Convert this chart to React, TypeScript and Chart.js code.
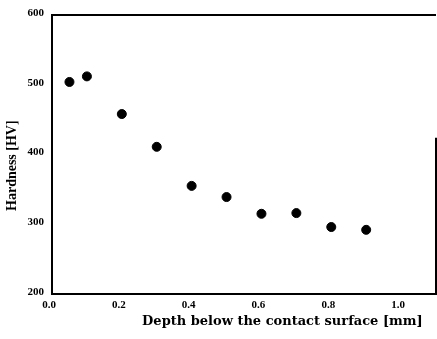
import React, { useEffect, useRef } from "react";
import { Chart, registerables } from "chart.js";

Chart.register(...registerables);

const depths = [0.05, 0.1, 0.2, 0.3, 0.4, 0.5, 0.6, 0.7, 0.8, 0.9];
const hardness = [504, 512, 458, 411, 355, 339, 315, 316, 296, 292];
const xTicks = [0.0, 0.2, 0.4, 0.6, 0.8, 1.0];
const yTicks = [200, 300, 400, 500, 600];
const xTitle = "Depth below the contact surface [mm]";
const yTitle = "Hardness [HV]";

const framePlugin = {
  id: "frame",
  afterDraw(chart: any) {
    const { ctx, chartArea } = chart;
    const { left, right, top, bottom } = chartArea;
    ctx.save();
    ctx.strokeStyle = "#000";
    ctx.lineWidth = 2;
    ctx.beginPath();
    ctx.moveTo(left, top);
    ctx.lineTo(right, top);
    ctx.stroke();
    ctx.beginPath();
    ctx.moveTo(right, top + (bottom - top) * 0.44);
    ctx.lineTo(right, bottom);
    ctx.stroke();
    // titles
    ctx.fillStyle = "#000";
    ctx.font = "bold 13px 'DejaVu Serif'";
    ctx.textAlign = "center";
    ctx.textBaseline = "middle";
    ctx.fillText(xTitle, left + (right - left) * 0.6, bottom + 28);
    ctx.translate(12, top + (bottom - top) * 0.54);
    ctx.rotate(-Math.PI / 2);
    ctx.font = "bold 14px 'Liberation Serif'";
    ctx.fillText(yTitle, 0, 0);
    ctx.restore();
  },
};

export default function App() {
  const ref = useRef<HTMLCanvasElement | null>(null);
  useEffect(() => {
    document.body.style.margin = "0";
    const canvas = ref.current!;
    const chart = new Chart(canvas, {
      type: "scatter",
      data: {
        datasets: [
          {
            data: depths.map((d, i) => ({ x: d, y: hardness[i] })),
            backgroundColor: "#000",
            borderColor: "#000",
            pointRadius: 4.5,
            pointHoverRadius: 4.5,
          },
        ],
      },
      options: {
        animation: false,
        responsive: false,
        maintainAspectRatio: false,
        layout: { autoPadding: false, padding: { top: 15, right: 1, left: 0, bottom: 0 } },
        plugins: { legend: { display: false }, tooltip: { enabled: false } },
        scales: {
          x: {
            type: "linear",
            min: 0,
            max: 1.1,
            afterFit: (s: any) => {
              s.height = 45;
              s.paddingLeft = 0;
              s.paddingRight = 0;
            },
            afterBuildTicks: (s: any) => {
              s.ticks = xTicks.map((v) => ({ value: v }));
            },
            grid: { display: false, drawTicks: false },
            border: { display: true, color: "#000", width: 2 },
            ticks: {
              color: "#000",
              padding: 5,
              labelOffset: -3,
              autoSkip: false,
              maxRotation: 0,
              font: { family: "'Liberation Serif'", size: 11, weight: "bold" },
              callback: (v: any) => Number(v).toFixed(1),
            },
          },
          y: {
            type: "linear",
            min: 200,
            max: 600,
            afterFit: (s: any) => {
              s.width = 52;
              s.paddingTop = 0;
              s.paddingBottom = 0;
            },
            afterBuildTicks: (s: any) => {
              s.ticks = yTicks.map((v) => ({ value: v }));
            },
            grid: { display: false, drawTicks: false },
            border: { display: true, color: "#000", width: 2 },
            ticks: {
              color: "#000",
              padding: 8,
              labelOffset: -2,
              autoSkip: false,
              font: { family: "'Liberation Serif'", size: 11, weight: "bold" },
              callback: (v: any) => String(v),
            },
          },
        },
      },
      plugins: [framePlugin],
    });
    return () => chart.destroy();
  }, []);
  return (
    <div style={{ width: 437, height: 339, background: "#fff" }}>
      <canvas ref={ref} width={437} height={339} style={{ display: "block" }} />
    </div>
  );
}
